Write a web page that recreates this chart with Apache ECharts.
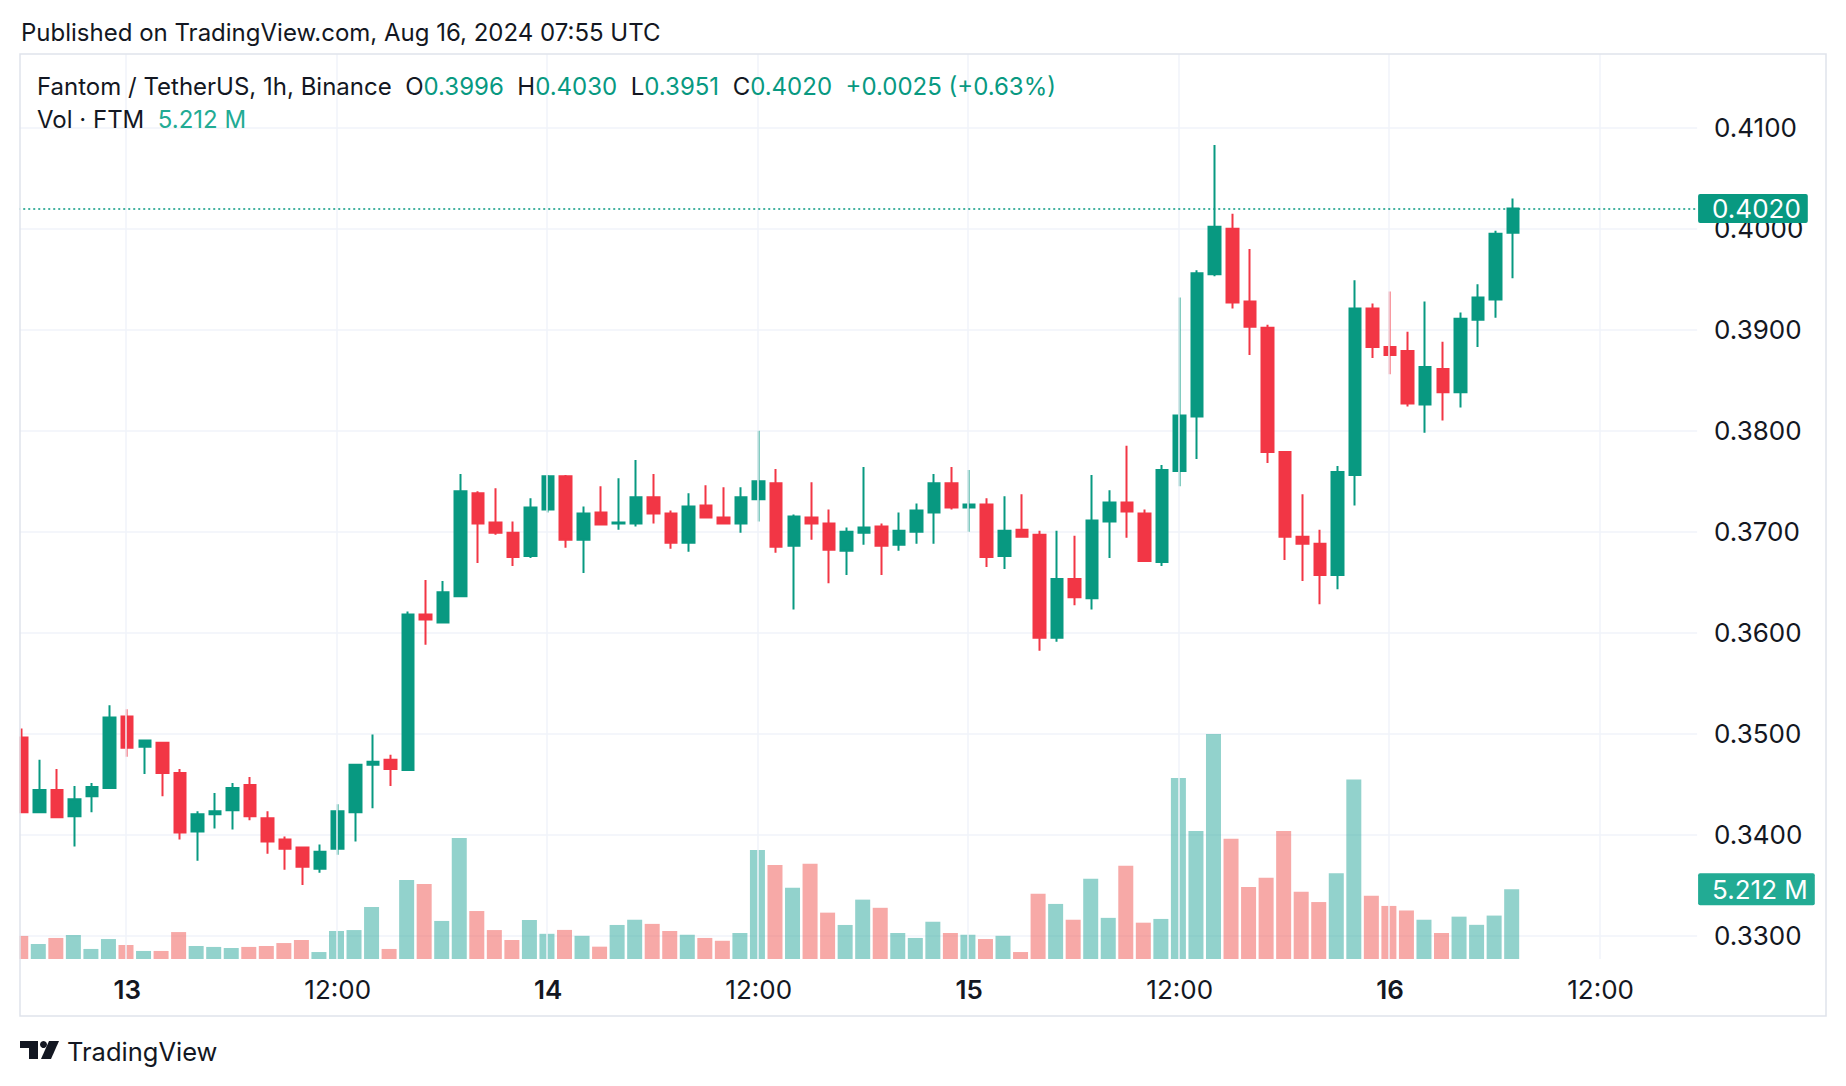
<!DOCTYPE html>
<html><head><meta charset="utf-8">
<script src="https://cdn.jsdelivr.net/npm/echarts@6/dist/echarts.min.js"></script>
<style>html,body{margin:0;padding:0;background:#fff}#c{width:1846px;height:1086px}</style>
</head><body><div id="c"></div>
<script>
const categories = [
'08-12 18:00','08-12 19:00','08-12 20:00','08-12 21:00','08-12 22:00','08-12 23:00',
'08-13 00:00','08-13 01:00','08-13 02:00','08-13 03:00','08-13 04:00','08-13 05:00','08-13 06:00','08-13 07:00','08-13 08:00','08-13 09:00','08-13 10:00','08-13 11:00',
'08-13 12:00','08-13 13:00','08-13 14:00','08-13 15:00','08-13 16:00','08-13 17:00','08-13 18:00','08-13 19:00','08-13 20:00','08-13 21:00','08-13 22:00','08-13 23:00',
'08-14 00:00','08-14 01:00','08-14 02:00','08-14 03:00','08-14 04:00','08-14 05:00','08-14 06:00','08-14 07:00','08-14 08:00','08-14 09:00','08-14 10:00','08-14 11:00',
'08-14 12:00','08-14 13:00','08-14 14:00','08-14 15:00','08-14 16:00','08-14 17:00','08-14 18:00','08-14 19:00','08-14 20:00','08-14 21:00','08-14 22:00','08-14 23:00',
'08-15 00:00','08-15 01:00','08-15 02:00','08-15 03:00','08-15 04:00','08-15 05:00','08-15 06:00','08-15 07:00','08-15 08:00','08-15 09:00','08-15 10:00','08-15 11:00',
'08-15 12:00','08-15 13:00','08-15 14:00','08-15 15:00','08-15 16:00','08-15 17:00','08-15 18:00','08-15 19:00','08-15 20:00','08-15 21:00','08-15 22:00','08-15 23:00',
'08-16 00:00','08-16 01:00','08-16 02:00','08-16 03:00','08-16 04:00','08-16 05:00','08-16 06:00','08-16 07:00','08-16 08:00','08-16 09:00','08-16 10:00','08-16 11:00',
'08-16 12:00','08-16 13:00','08-16 14:00','08-16 15:00','08-16 16:00','08-16 17:00'
];
const opens = [
0.3496,0.3422,0.3444,0.3418,0.3438,0.3446,0.3517,0.3487,0.3491,0.3461,0.3403,0.3420,0.3424,0.3449,0.3416,0.3395,0.3387,0.3366,
0.3386,0.3422,0.3469,0.3474,0.3464,0.3618,0.3610,0.3636,0.3738,0.3709,0.3699,0.3676,
0.3722,0.3755,0.3692,0.3719,0.3708,0.3708,0.3734,0.3718,0.3689,0.3726,0.3714,0.3708,
0.3732,0.3748,0.3686,0.3714,0.3708,0.3681,0.3699,0.3705,0.3687,0.3700,0.3719,0.3748,
0.3724,0.3727,0.3676,0.3702,0.3697,0.3595,0.3653,0.3634,0.3710,0.3729,0.3718,0.3670,
0.3760,0.3814,0.3955,0.4000,0.3928,0.3902,0.3779,0.3695,0.3688,0.3657,0.3756,0.3921,
0.3883,0.3879,0.3826,0.3861,0.3838,0.3910,0.3930,0.3996
];
const closes = [
0.3422,0.3444,0.3417,0.3435,0.3447,0.3516,0.3486,0.3493,0.3461,0.3402,0.3420,0.3423,0.3446,0.3418,0.3393,0.3386,0.3368,0.3383,
0.3423,0.3469,0.3472,0.3465,0.3618,0.3613,0.3640,0.3740,0.3708,0.3699,0.3675,0.3724,
0.3755,0.3692,0.3718,0.3707,0.3709,0.3734,0.3718,0.3689,0.3725,0.3714,0.3708,0.3734,
0.3750,0.3685,0.3715,0.3708,0.3682,0.3700,0.3704,0.3686,0.3701,0.3721,0.3748,0.3724,
0.3727,0.3675,0.3701,0.3695,0.3595,0.3653,0.3635,0.3711,0.3729,0.3720,0.3671,0.3761,
0.3815,0.3956,0.4002,0.3927,0.3903,0.3779,0.3695,0.3688,0.3657,0.3759,0.3921,0.3883,
0.3875,0.3827,0.3863,0.3838,0.3911,0.3932,0.3995,0.4020
];
const lows = [
0.3421,0.3422,0.3416,0.3388,0.3422,0.3445,0.3477,0.3460,0.3438,0.3395,0.3374,0.3406,0.3405,0.3414,0.3381,0.3365,0.3350,0.3362,
0.3380,0.3393,0.3426,0.3448,0.3463,0.3588,0.3610,0.3635,0.3669,0.3697,0.3666,0.3674,
0.3719,0.3684,0.3659,0.3706,0.3702,0.3705,0.3708,0.3683,0.3680,0.3713,0.3707,0.3699,
0.3710,0.3679,0.3623,0.3692,0.3649,0.3657,0.3687,0.3657,0.3681,0.3688,0.3688,0.3722,
0.3700,0.3665,0.3663,0.3695,0.3582,0.3591,0.3627,0.3623,0.3674,0.3694,0.3671,0.3666,
0.3745,0.3772,0.3953,0.3921,0.3875,0.3768,0.3672,0.3651,0.3628,0.3643,0.3726,0.3872,
0.3856,0.3824,0.3798,0.3810,0.3823,0.3883,0.3912,0.3951
];
const highs = [
0.3505,0.3474,0.3465,0.3448,0.3451,0.3528,0.3524,0.3494,0.3492,0.3465,0.3423,0.3441,0.3451,0.3457,0.3423,0.3398,0.3388,0.3390,
0.3430,0.3470,0.3499,0.3479,0.3621,0.3652,0.3651,0.3757,0.3740,0.3743,0.3710,0.3733,
0.3756,0.3756,0.3725,0.3745,0.3753,0.3771,0.3757,0.3721,0.3738,0.3746,0.3744,0.3744,
0.3800,0.3762,0.3717,0.3749,0.3722,0.3704,0.3764,0.3708,0.3719,0.3728,0.3757,0.3764,
0.3761,0.3733,0.3735,0.3737,0.3701,0.3701,0.3696,0.3756,0.3741,0.3785,0.3722,0.3766,
0.3932,0.3959,0.4083,0.4015,0.3980,0.3905,0.3779,0.3737,0.3702,0.3765,0.3949,0.3926,
0.3938,0.3898,0.3928,0.3888,0.3917,0.3945,0.3998,0.4030
];
const volumes = [
1.72,1.12,1.57,1.79,0.75,1.49,1.04,0.60,0.60,2.01,0.97,0.90,0.82,0.90,0.97,1.19,1.42,0.52,
2.09,2.16,3.88,0.75,5.90,5.60,2.84,9.03,3.58,2.16,1.42,2.91,
1.88,2.17,1.73,0.92,2.54,2.93,2.62,2.09,1.81,1.57,1.36,1.94,
8.14,7.02,5.32,7.10,3.46,2.54,4.43,3.82,1.94,1.57,2.78,1.94,
1.81,1.49,1.73,0.52,4.87,4.11,2.93,5.98,3.07,6.96,2.71,2.99,
13.51,9.55,16.79,8.98,5.38,6.07,9.55,5.02,4.25,6.40,13.40,4.72,
3.96,3.62,2.93,1.94,3.16,2.55,3.24,5.212
];
const priceTicks = [0.33,0.34,0.35,0.36,0.37,0.38,0.39,0.40,0.41];
const timeTickCats = ['08-13 00:00','08-13 12:00','08-14 00:00','08-14 12:00','08-15 00:00','08-15 12:00','08-16 00:00','08-16 12:00'];
const timeTickLabels = ['13','12:00','14','12:00','15','12:00','16','12:00'];
const timeTickBold = [true,false,true,false,true,false,true,false];

const UP = '#089981', DOWN = '#f23645';
const VOL_UP = 'rgba(38,166,154,0.5)', VOL_DOWN = 'rgba(239,83,80,0.5)';
const GRID = '#f0f3fa', TXT = '#131722';
const FONT = 'Inter, "Noto Sans", sans-serif';

const n = closes.length;
const lastO = opens[n-1], lastH = highs[n-1], lastL = lows[n-1], lastC = closes[n-1];
const chg = lastC - closes[n-2];
const pct = chg / closes[n-2] * 100;
const sign = chg >= 0 ? '+' : '';
const lastVol = volumes[n-1];

const chart = echarts.init(document.getElementById('c'), null, {renderer: 'svg'});
chart.setOption({
  animation: false,
  backgroundColor: '#ffffff',
  grid: {left: 13.23, right: 148.9, top: 54, bottom: 127, outerBoundsMode: 'none', containLabel: false},
  xAxis: {
    type: 'category', data: categories, boundaryGap: true,
    axisLine: {show: false}, axisTick: {show: false}, splitLine: {show: false},
    axisLabel: {
      margin: 17, color: TXT, fontFamily: FONT, fontSize: 26,
      interval: function (idx, val) { return timeTickCats.indexOf(val) >= 0; },
      formatter: function (val) {
        const k = timeTickCats.indexOf(val);
        if (k < 0) return '';
        return timeTickBold[k] ? '{b|' + timeTickLabels[k] + '}' : '{r|' + timeTickLabels[k] + '}';
      },
      rich: {
        b: {fontWeight: 600, fontSize: 26, color: TXT, fontFamily: FONT},
        r: {fontWeight: 400, fontSize: 26, color: TXT, fontFamily: FONT}
      }
    }
  },
  yAxis: [{
    type: 'value', position: 'right', min: 0.327667, max: 0.417316, scale: true,
    axisLine: {show: false},
    axisTick: {show: false, customValues: priceTicks},
    splitLine: {show: true, lineStyle: {color: GRID, width: 1.5}},
    axisLabel: {customValues: priceTicks, margin: 17, color: TXT, fontFamily: FONT, fontSize: 26,
      formatter: function (v) { return v.toFixed(4); }}
  }, {
    type: 'value', min: 0, max: 67.54, show: false
  }],
  series: [{
    type: 'bar', xAxisIndex: 0, yAxisIndex: 1, barWidth: 15, z: 2,
    data: volumes.map(function (v, i) { return {value: v, itemStyle: {color: closes[i] >= opens[i] ? VOL_UP : VOL_DOWN}}; }),
    markLine: {
      silent: true, symbol: ['none', 'none'], animation: false, precision: 4,
      label: {show: false},
      lineStyle: {color: GRID, width: 1.5, type: 'solid'},
      data: timeTickCats.map(function (c) { return {xAxis: c}; })
    }
  }, {
    type: 'bar', xAxisIndex: 0, yAxisIndex: 1, data: [], z: 5,
    markLine: {
      silent: true, symbol: ['none', 'none'], animation: false, precision: 4,
      data: [{yAxis: lastVol}],
      lineStyle: {color: 'rgba(0,0,0,0)', width: 0, opacity: 1},
      label: {show: true, position: 'end', distance: 1,
        formatter: function () { return lastVol.toFixed(3) + ' M'; },
        backgroundColor: '#22ab94', color: '#ffffff', fontFamily: FONT, fontSize: 26, opacity: 1,
        padding: [3, 7, 3, 14], borderRadius: 2}
    }
  }, {
    type: 'candlestick', xAxisIndex: 0, yAxisIndex: 0, barWidth: 12, z: 3,
    data: opens.map(function (o, i) { return [o, closes[i], lows[i], highs[i]]; }),
    itemStyle: {color: UP, color0: DOWN, borderColor: UP, borderColor0: DOWN, borderWidth: 2},
    markLine: {
      silent: true, symbol: ['none', 'none'], animation: false, precision: 4,
      data: [{yAxis: lastC}],
      lineStyle: {color: UP, width: 1.5, type: [2, 3]},
      label: {show: true, position: 'end', distance: 1,
        formatter: function () { return lastC.toFixed(4); },
        backgroundColor: UP, color: '#ffffff', fontFamily: FONT, fontSize: 26,
        padding: [2, 7, 1, 14], borderRadius: 2}
    }
  }],
  graphic: [
    {type: 'rect', z: 100, shape: {x: 0, y: 0, width: 19.5, height: 1086}, style: {fill: '#ffffff'}},
    {type: 'rect', z: 101, shape: {x: 20, y: 54, width: 1806, height: 962}, style: {fill: 'none', stroke: '#e0e3eb', lineWidth: 1.5}},
    {type: 'text', z: 102, x: 21, y: 32, style: {text: 'Published on TradingView.com, Aug 16, 2024 07:55 UTC', fontFamily: FONT, fontSize: 24, fill: TXT, verticalAlign: 'middle'}},
    {type: 'text', z: 102, x: 37, y: 86, style: {
      text: '{n|Fantom / TetherUS, 1h, Binance}  {n|O}{g|' + lastO.toFixed(4) + '}  {n|H}{g|' + lastH.toFixed(4) + '}  {n|L}{g|' + lastL.toFixed(4) + '}  {n|C}{g|' + lastC.toFixed(4) + '}  {g|' + sign + chg.toFixed(4) + ' (' + sign + pct.toFixed(2) + '%)}',
      verticalAlign: 'middle', fontFamily: FONT, fontSize: 24,
      rich: {n: {fill: TXT, fontFamily: FONT, fontSize: 24}, g: {fill: UP, fontFamily: FONT, fontSize: 24}}
    }},
    {type: 'text', z: 102, x: 37, y: 119, style: {
      text: '{n|Vol · FTM}  {t|' + lastVol.toFixed(3) + ' M}',
      verticalAlign: 'middle', fontFamily: FONT, fontSize: 24,
      rich: {n: {fill: TXT, fontFamily: FONT, fontSize: 24}, t: {fill: '#22ab94', fontFamily: FONT, fontSize: 24}}
    }},
    {type: 'polygon', z: 102, shape: {points: [[20, 1041], [38, 1041], [38, 1059], [29, 1059], [29, 1048], [20, 1048]]}, style: {fill: TXT}},
    {type: 'circle', z: 102, shape: {cx: 43.5, cy: 1044.5, r: 3.5}, style: {fill: TXT}},
    {type: 'polygon', z: 102, shape: {points: [[49, 1041], [59, 1041], [51, 1059], [41, 1059]]}, style: {fill: TXT}},
    {type: 'text', z: 102, x: 67, y: 1051, style: {text: 'TradingView', fontFamily: FONT, fontSize: 25.5, fill: TXT, verticalAlign: 'middle'}}
  ]
});
</script>
</body></html>
